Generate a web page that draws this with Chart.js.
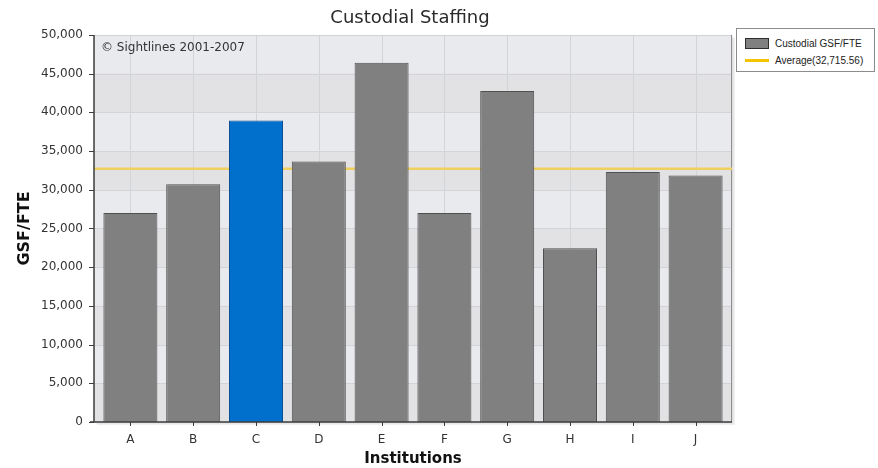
<!DOCTYPE html>
<html>
<head>
<meta charset="utf-8">
<title>Custodial Staffing</title>
<script src="https://cdn.jsdelivr.net/npm/chart.js@4/dist/chart.umd.min.js"></script>
<style>
  html, body { margin: 0; padding: 0; background: #fff; }
  #wrap { position: relative; width: 878px; height: 468px; overflow: hidden; }
  #chart { position: absolute; left: 0; top: 0; }
  #legend {
    position: absolute; left: 736px; top: 28px; width: 139px; height: 44px;
    box-sizing: border-box; border: 1px solid #8c8c8c; background: #fff;
    font-family: "Liberation Sans", Arial, sans-serif; font-size: 10px; color: #222;
  }
  #legend .row { position: absolute; left: 8px; height: 14px; display: flex; align-items: center; white-space: nowrap; }
  #legend .sw { width: 24px; margin-right: 6px; box-sizing: border-box; }
  #legend .sw.bar { height: 11px; background: #808080; border: 1px solid #2e2e2e; }
  #legend .sw.line { height: 3px; background: #f5c400; }
</style>
</head>
<body>
<div id="wrap">
  <canvas id="chart" width="820" height="468"></canvas>
  <div id="legend">
    <div class="row" style="top:7px"><span class="sw bar"></span><span>Custodial GSF/FTE</span></div>
    <div class="row" style="top:24px"><span class="sw line"></span><span>Average(32,715.56)</span></div>
  </div>
</div>
<script>
// Institutions and their gross square feet per custodial FTE
const institutions = ['A', 'B', 'C', 'D', 'E', 'F', 'G', 'H', 'I', 'J'];
const gsfPerFte = [27000, 30700, 38950, 33650, 46400, 27000, 42750, 22450, 32300, 31850];
const focusInstitution = 'C';
const peerAverage = 32715.56;
const yMin = 0;
const yMax = 50000;
const yStep = 5000;

const barFill = institutions.map(n => n === focusInstitution ? '#0070cc' : '#808080');
const barEdge = institutions.map(n => n === focusInstitution ? '#0b4f95' : '#505050');

const FONT = '"DejaVu Sans", Verdana, sans-serif';
const PLOT_PAD = 5; // plot panel extends a little past the outer categories

// Panel background, bands, grid, average line and axis lines
const plotFrame = {
  id: 'plotFrame',
  beforeDatasetsDraw(chart) {
    const { ctx, chartArea: a, scales: { x, y } } = chart;
    const L = a.left - PLOT_PAD, R = a.right + PLOT_PAD, T = a.top, B = a.bottom;
    ctx.save();
    // soft drop shadow
    ctx.fillStyle = 'rgba(0,0,0,0.06)';
    ctx.fillRect(L + 3, T + 3, R - L, B - T);
    ctx.fillStyle = 'rgba(0,0,0,0.08)';
    ctx.fillRect(L + 1.5, T + 1.5, R - L, B - T);
    // alternating bands
    for (let v = yMin; v < yMax; v += yStep) {
      const yb = y.getPixelForValue(v), yt = y.getPixelForValue(v + yStep);
      ctx.fillStyle = ((v - yMin) / yStep) % 2 === 0 ? '#e2e2e5' : '#e8eaee';
      ctx.fillRect(L, yt, R - L, yb - yt);
    }
    // grid
    ctx.strokeStyle = '#d3d4d7';
    ctx.lineWidth = 1;
    ctx.beginPath();
    for (let v = yMin + yStep; v <= yMax; v += yStep) {
      const py = Math.round(y.getPixelForValue(v)) + 0.5;
      ctx.moveTo(L, py); ctx.lineTo(R, py);
    }
    institutions.forEach((_, i) => {
      const px = Math.round(x.getPixelForTick(i)) + 0.5;
      ctx.moveTo(px, T); ctx.lineTo(px, B);
    });
    ctx.stroke();
    // right edge
    ctx.strokeStyle = '#8e8e8e';
    ctx.beginPath();
    ctx.moveTo(R - 0.5, T); ctx.lineTo(R - 0.5, B);
    ctx.stroke();
    // average line
    const ay = y.getPixelForValue(peerAverage);
    ctx.strokeStyle = '#efcf5e';
    ctx.lineWidth = 2.5;
    ctx.beginPath();
    ctx.moveTo(L, ay); ctx.lineTo(R, ay);
    ctx.stroke();
    // copyright note
    ctx.fillStyle = '#333';
    ctx.font = '12px ' + FONT;
    ctx.textBaseline = 'middle';
    ctx.textAlign = 'left';
    ctx.fillText('\u00A9 Sightlines 2001-2007', L + 7, T + 13);
    ctx.restore();
  },
  afterDatasetsDraw(chart) {
    const { ctx, chartArea: a, scales: { x, y } } = chart;
    const L = a.left - PLOT_PAD, R = a.right + PLOT_PAD, T = a.top, B = a.bottom;
    ctx.save();
    ctx.strokeStyle = '#3c3c3c';
    ctx.lineWidth = 1.5;
    ctx.beginPath();
    ctx.moveTo(L, T); ctx.lineTo(L, B);
    ctx.moveTo(L - 4, B); ctx.lineTo(R, B);
    ctx.stroke();
    ctx.lineWidth = 1;
    ctx.beginPath();
    for (let v = yMin; v <= yMax; v += yStep) {
      const py = Math.round(y.getPixelForValue(v)) + 0.5;
      ctx.moveTo(L - 5, py); ctx.lineTo(L, py);
    }
    institutions.forEach((_, i) => {
      const px = Math.round(x.getPixelForTick(i)) + 0.5;
      ctx.moveTo(px, B); ctx.lineTo(px, B + 4);
    });
    ctx.stroke();
    ctx.restore();
  }
};

new Chart(document.getElementById('chart'), {
  type: 'bar',
  data: {
    labels: institutions,
    datasets: [{
      label: 'Custodial GSF/FTE',
      data: gsfPerFte,
      backgroundColor: barFill,
      borderColor: barEdge,
      borderWidth: 1,
      borderSkipped: 'bottom',
      categoryPercentage: 1.0,
      barPercentage: 0.86
    }]
  },
  options: {
    responsive: false,
    animation: false,
    devicePixelRatio: 1,
    layout: { padding: 0 },
    plugins: {
      legend: { display: false },
      tooltip: { enabled: false },
      title: {
        display: true,
        text: 'Custodial Staffing',
        color: '#2a2a2a',
        font: { family: FONT, size: 18, weight: 'normal' },
        padding: { top: 8, bottom: 5.3 }
      }
    },
    scales: {
      x: {
        grid: { display: false },
        border: { display: false },
        ticks: { color: '#333', font: { family: FONT, size: 12 }, padding: 3 },
        title: {
          display: true, text: 'Institutions', color: '#111',
          font: { family: FONT, size: 15, weight: 'bold' },
          padding: { top: 0, bottom: 0 }
        },
        afterFit(scale) { scale.height = 46; }
      },
      y: {
        min: yMin, max: yMax,
        grid: { display: false },
        border: { display: false },
        ticks: {
          stepSize: yStep, color: '#333', padding: 8,
          font: { family: FONT, size: 12 },
          callback: v => Number(v).toLocaleString('en-US')
        },
        title: {
          display: true, text: 'GSF/FTE', color: '#111',
          font: { family: FONT, size: 16, weight: 'bold' },
          padding: { top: 15, bottom: 0 }
        },
        afterFit(scale) { scale.width = 99; }
      },
      side: {
        position: 'right',
        display: true,
        grid: { display: false },
        border: { display: false },
        ticks: { display: false },
        afterFit(scale) { scale.width = 93; }
      }
    }
  },
  plugins: [plotFrame]
});
</script>
</body>
</html>
